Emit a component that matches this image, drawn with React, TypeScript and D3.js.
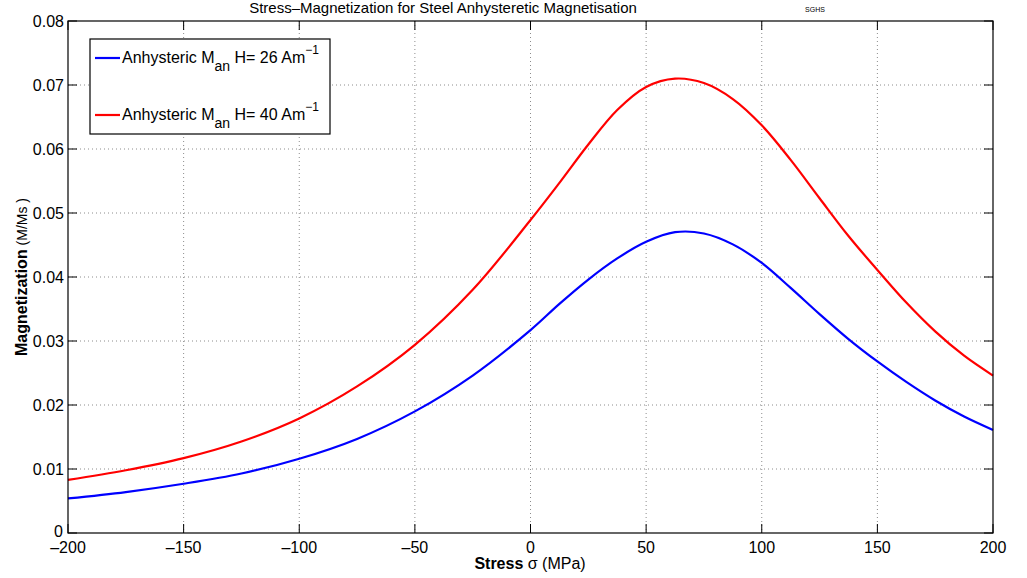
import React from "react";
import * as d3 from "d3";

const stress = [-200, -175, -150, -125, -100, -75, -50, -25, 0, 12.5, 25, 37.5, 50, 62.5, 75, 87.5, 100, 112.5, 125, 137.5, 150, 162.5, 175, 187.5, 200];
const blueH26 = [0.0054, 0.0064, 0.0077, 0.0093, 0.0116, 0.0147, 0.019, 0.0246, 0.0317, 0.0358, 0.0396, 0.0429, 0.0455, 0.047, 0.0468, 0.0451, 0.0422, 0.0383, 0.0342, 0.0303, 0.0268, 0.0236, 0.0207, 0.0182, 0.0161];
const redH40 = [0.0083, 0.0098, 0.0117, 0.0143, 0.0179, 0.0229, 0.0294, 0.038, 0.0489, 0.0547, 0.0607, 0.0661, 0.0697, 0.071, 0.0703, 0.0678, 0.0637, 0.0583, 0.0523, 0.0464, 0.0411, 0.036, 0.0315, 0.0277, 0.0246];
const xTicks = [-200, -150, -100, -50, 0, 50, 100, 150, 200];
const yTicks = [0, 0.01, 0.02, 0.03, 0.04, 0.05, 0.06, 0.07, 0.08];
const seriesLabels = ["26", "40"];
const seriesColors = ["#0000ff", "#ff0000"];

const W = 1027, H = 578;
const L = 68, R = 993, T = 21, B = 533;
const font = "'Liberation Sans', Arial, Helvetica, sans-serif";

export default function App() {
  const x = d3.scaleLinear().domain([-200, 200]).range([L, R]);
  const y = d3.scaleLinear().domain([0, 0.08]).range([B, T]);
  const line = d3
    .line<number>()
    .x((_, i) => x(stress[i]))
    .y((d) => y(d))
    .curve(d3.curveCatmullRom.alpha(0.5));
  const series = [blueH26, redH40];
  const tick = 9;
  return (
    <svg width={W} height={H} style={{ position: "absolute", left: 0, top: 0, background: "#fff" }} fontFamily={font}>
      <rect x={0} y={0} width={W} height={H} fill="#fff" />
      {/* grid */}
      {xTicks.slice(1, -1).map((t) => (
        <line key={"gx" + t} x1={x(t)} x2={x(t)} y1={T} y2={B} stroke="#8c8c8c" strokeWidth={1} strokeDasharray="1 3" />
      ))}
      {yTicks.slice(1, -1).map((t) => (
        <line key={"gy" + t} x1={L} x2={R} y1={y(t)} y2={y(t)} stroke="#8c8c8c" strokeWidth={1} strokeDasharray="1 3" />
      ))}
      {/* curves */}
      {series.map((s, i) => (
        <path key={"s" + i} d={line(s) || ""} fill="none" stroke={seriesColors[i]} strokeWidth={2.2} />
      ))}
      {/* ticks */}
      {xTicks.map((t) => (
        <g key={"tx" + t}>
          <line x1={x(t)} x2={x(t)} y1={B} y2={B - tick} stroke="#000" />
          <line x1={x(t)} x2={x(t)} y1={T} y2={T + tick} stroke="#000" />
          <text x={x(t)} y={553} fontSize={16} textAnchor="middle" fill="#000">
            {t < 0 ? "\u2013" + Math.abs(t) : String(t)}
          </text>
        </g>
      ))}
      {yTicks.map((t) => (
        <g key={"ty" + t}>
          <line x1={L} x2={L + tick} y1={y(t)} y2={y(t)} stroke="#000" />
          <line x1={R} x2={R - tick} y1={y(t)} y2={y(t)} stroke="#000" />
          <text x={t === 0 ? 63 : 64} y={y(t) + (t === 0 ? 4 : 6)} fontSize={16} textAnchor="end" fill="#000">
            {t === 0 ? "0" : d3.format(".2f")(t)}
          </text>
        </g>
      ))}
      {/* frame */}
      <rect x={L} y={T} width={R - L} height={B - T} fill="none" stroke="#000" strokeWidth={1.2} />
      {/* title */}
      <text x={443} y={13} fontSize={15} textAnchor="middle" fill="#000">
        Stress{"\u2013"}Magnetization for Steel Anhysteretic Magnetisation
      </text>
      <text x={815} y={12} fontSize={7} textAnchor="middle" fill="#000">SGHS</text>
      {/* axis labels */}
      <text x={530} y={569} fontSize={16} textAnchor="middle" fill="#000">
        <tspan fontWeight="bold">Stress</tspan>
        <tspan> {"\u03c3"} (MPa)</tspan>
      </text>
      <text transform={`translate(27,${(T + B) / 2}) rotate(-90)`} fontSize={16} textAnchor="middle" fill="#000">
        <tspan fontWeight="bold">Magnetization</tspan>
        <tspan fontSize={14}> (M/Ms )</tspan>
      </text>
      {/* legend */}
      <rect x={90} y={39} width={240} height={95} fill="#fff" stroke="#000" strokeWidth={1.2} />
      {seriesLabels.map((lab, i) => {
        const ly = 58 + i * 57;
        return (
          <g key={"lg" + i}>
            <line x1={95} x2={120} y1={ly} y2={ly} stroke={seriesColors[i]} strokeWidth={2.2} />
            <text x={122} y={ly + 5} fontSize={16} fill="#000">
              <tspan>Anhysteric M</tspan>
              <tspan fontSize={14} dy={8}>an</tspan>
              <tspan dy={-8}> H= {lab} Am</tspan>
              <tspan fontSize={12} dy={-9}>{"\u22121"}</tspan>
            </text>
          </g>
        );
      })}
    </svg>
  );
}
